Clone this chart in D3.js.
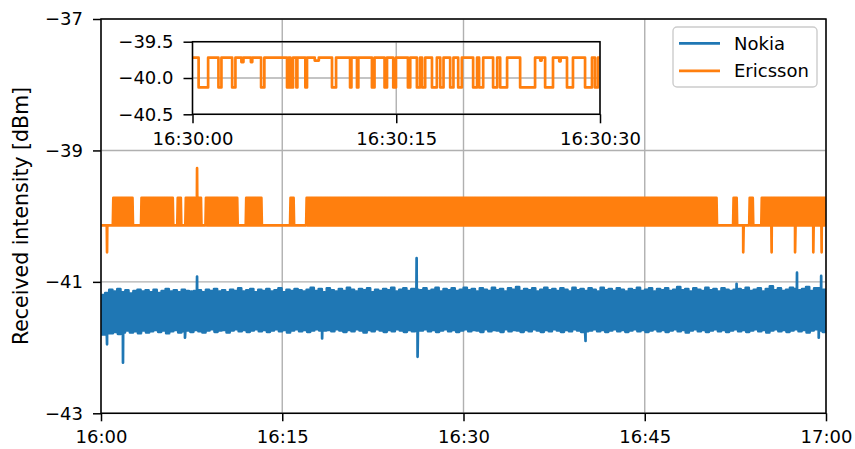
<!DOCTYPE html>
<html><head><meta charset="utf-8">
<script src="https://cdn.jsdelivr.net/npm/d3@7"></script>
<style>body{margin:0;background:#fff} text{font-family:"DejaVu Sans",sans-serif;fill:#000}</style>
</head><body><svg id="c" width="855" height="449"></svg>
<script>
// ---------- data ----------
const seriesNames = ["Nokia", "Ericsson"];
const seriesColors = ["#1f77b4", "#ff7f0e"];
const mainXTicks = ["16:00", "16:15", "16:30", "16:45", "17:00"];
const mainYTicks = [-43, -41, -39, -37];
const insetXTicks = ["16:30:00", "16:30:15", "16:30:30"];
const insetYTicks = [-40.5, -40.0, -39.5];
const windowSec = 20;   // each entry = upper / lower edge of the trace in a 20 s window from 16:00
const samplesPerWindow = 8;

const nokiaHi = [
-41.20,-41.17,-41.12,-41.15,-41.11,-41.16,-41.13,-41.18,-41.14,-41.12,
-41.15,-41.13,-41.16,-41.12,-41.17,-41.14,-41.11,-41.15,-41.13,-41.16,
-41.12,-41.14,-41.15,-41.14,-41.13,-41.16,-41.12,-41.14,-41.11,-41.15,
-41.13,-41.16,-41.12,-41.14,-41.10,-41.15,-41.13,-41.11,-41.16,-41.12,
-41.14,-41.11,-41.15,-41.13,-41.10,-41.16,-41.12,-41.14,-41.11,-41.13,
-41.15,-41.12,-41.09,-41.14,-41.11,-41.16,-41.10,-41.13,-41.15,-41.11,
-41.14,-41.09,-41.12,-41.15,-41.11,-41.13,-41.10,-41.16,-41.12,-41.14,
-41.11,-41.13,-41.09,-41.15,-41.12,-41.10,-41.14,-41.11,-41.12,-41.13,
-41.10,-41.14,-41.12,-41.09,-41.15,-41.11,-41.13,-41.10,-41.14,-41.12,
-41.09,-41.13,-41.11,-41.15,-41.10,-41.12,-41.14,-41.09,-41.13,-41.11,
-41.15,-41.10,-41.12,-41.08,-41.14,-41.11,-41.13,-41.10,-41.15,-41.12,
-41.09,-41.13,-41.11,-41.14,-41.10,-41.12,-41.15,-41.09,-41.13,-41.11,
-41.14,-41.10,-41.12,-41.15,-41.09,-41.13,-41.11,-41.14,-41.10,-41.12,
-41.15,-41.11,-41.13,-41.09,-41.14,-41.12,-41.10,-41.15,-41.11,-41.13,
-41.10,-41.14,-41.12,-41.08,-41.13,-41.11,-41.15,-41.10,-41.12,-41.14,
-41.09,-41.13,-41.11,-41.15,-41.10,-41.12,-41.14,-41.12,-41.11,-41.13,
-41.09,-41.14,-41.12,-41.10,-41.15,-41.11,-41.07,-41.13,-41.10,-41.14,
-41.12,-41.09,-41.11,-41.13,-41.11,-41.08,-41.14,-41.10,-41.10,-41.12];

const nokiaLo = [
-41.80,-41.78,-41.78,-41.76,-41.79,-41.77,-41.74,-41.77,-41.75,-41.78,
-41.74,-41.77,-41.75,-41.73,-41.76,-41.74,-41.78,-41.75,-41.73,-41.77,
-41.75,-41.74,-41.76,-41.73,-41.75,-41.77,-41.74,-41.72,-41.76,-41.74,
-41.73,-41.77,-41.74,-41.72,-41.75,-41.73,-41.76,-41.74,-41.72,-41.75,
-41.73,-41.76,-41.74,-41.72,-41.75,-41.73,-41.77,-41.74,-41.72,-41.75,
-41.73,-41.76,-41.74,-41.72,-41.74,-41.74,-41.73,-41.75,-41.72,-41.74,
-41.76,-41.73,-41.75,-41.72,-41.74,-41.77,-41.73,-41.75,-41.72,-41.74,
-41.76,-41.73,-41.75,-41.72,-41.74,-41.76,-41.73,-41.75,-41.74,-41.74,
-41.72,-41.75,-41.73,-41.76,-41.74,-41.72,-41.75,-41.73,-41.76,-41.74,
-41.72,-41.75,-41.73,-41.74,-41.76,-41.72,-41.75,-41.73,-41.74,-41.76,
-41.72,-41.75,-41.73,-41.74,-41.76,-41.73,-41.75,-41.72,-41.74,-41.76,
-41.73,-41.75,-41.72,-41.74,-41.76,-41.73,-41.75,-41.72,-41.74,-41.76,
-41.75,-41.74,-41.72,-41.75,-41.73,-41.76,-41.74,-41.72,-41.75,-41.73,
-41.76,-41.74,-41.72,-41.75,-41.73,-41.76,-41.74,-41.72,-41.75,-41.73,
-41.76,-41.74,-41.72,-41.75,-41.73,-41.77,-41.74,-41.72,-41.75,-41.73,
-41.76,-41.74,-41.72,-41.75,-41.73,-41.76,-41.74,-41.72,-41.75,-41.73,
-41.76,-41.74,-41.72,-41.75,-41.73,-41.77,-41.74,-41.72,-41.75,-41.73,
-41.76,-41.74,-41.72,-41.75,-41.73,-41.77,-41.74,-41.72,-41.74,-41.76];

// isolated spikes: [minutes after 16:00, dBm]
const nokiaSpikeMin = [0.5, 1.82, 6.95, 7.95, 18.3, 26.12, 26.2, 40.1, 52.6, 57.6, 59.4, 59.6];
const nokiaSpikeVal = [-41.95, -42.23, -41.85, -40.92, -41.86, -40.64, -42.14, -41.90, -41.03, -40.86, -41.85, -40.91];

const ericssonHi = [
-40.14,-40.14,-40.14,-39.72,-39.72,-39.72,-39.72,-39.72,-40.14,-40.14,
-39.72,-39.72,-39.72,-39.72,-39.72,-39.72,-39.72,-39.72,-40.14,-39.72,
-40.14,-39.72,-39.72,-39.72,-39.72,-40.14,-39.72,-39.72,-39.72,-39.72,
-39.72,-39.72,-39.72,-39.72,-40.14,-40.14,-39.72,-39.72,-39.72,-39.72,
-40.14,-40.14,-40.14,-40.14,-40.14,-40.14,-40.14,-39.72,-40.14,-40.14,
-40.14,-39.72,-39.72,-39.72,-39.72,-39.72,-39.72,-39.72,-39.72,-39.72,
-39.72,-39.72,-39.72,-39.72,-39.72,-39.72,-39.72,-39.72,-39.72,-39.72,
-39.72,-39.72,-39.72,-39.72,-39.72,-39.72,-39.72,-39.72,-39.72,-39.72,
-39.72,-39.72,-39.72,-39.72,-39.72,-39.72,-39.72,-39.72,-39.72,-39.72,
-39.72,-39.72,-39.72,-39.72,-39.72,-39.72,-39.72,-39.72,-39.72,-39.72,
-39.72,-39.72,-39.72,-39.72,-39.72,-39.72,-39.72,-39.72,-39.72,-39.72,
-39.72,-39.72,-39.72,-39.72,-39.72,-39.72,-39.72,-39.72,-39.72,-39.72,
-39.72,-39.72,-39.72,-39.72,-39.72,-39.72,-39.72,-39.72,-39.72,-39.72,
-39.72,-39.72,-39.72,-39.72,-39.72,-39.72,-39.72,-39.72,-39.72,-39.72,
-39.72,-39.72,-39.72,-39.72,-39.72,-39.72,-39.72,-39.72,-39.72,-39.72,
-39.72,-39.72,-39.72,-40.14,-40.14,-40.14,-40.14,-39.72,-40.14,-40.14,
-40.14,-39.72,-40.14,-40.14,-39.72,-39.72,-39.72,-39.72,-39.72,-39.72,
-39.72,-39.72,-39.72,-39.72,-39.72,-39.72,-39.72,-39.72,-39.72,-39.72];

const ericssonLo = [
-40.14,-40.14,-40.14,-40.14,-40.14,-40.14,-40.14,-40.14,-40.14,-40.14,
-40.14,-40.14,-40.14,-40.14,-40.14,-40.14,-40.14,-40.14,-40.14,-40.14,
-40.14,-40.14,-40.14,-40.14,-40.14,-40.14,-40.14,-40.14,-40.14,-40.14,
-40.14,-40.14,-40.14,-40.14,-40.14,-40.14,-40.14,-40.14,-40.14,-40.14,
-40.14,-40.14,-40.14,-40.14,-40.14,-40.14,-40.14,-40.14,-40.14,-40.14,
-40.14,-40.14,-40.14,-40.14,-40.14,-40.14,-40.14,-40.14,-40.14,-40.14,
-40.14,-40.14,-40.14,-40.14,-40.14,-40.14,-40.14,-40.14,-40.14,-40.14,
-40.14,-40.14,-40.14,-40.14,-40.14,-40.14,-40.14,-40.14,-40.14,-40.14,
-40.14,-40.14,-40.14,-40.14,-40.14,-40.14,-40.14,-40.14,-40.14,-40.14,
-40.14,-40.14,-40.14,-40.14,-40.14,-40.14,-40.14,-40.14,-40.14,-40.14,
-40.14,-40.14,-40.14,-40.14,-40.14,-40.14,-40.14,-40.14,-40.14,-40.14,
-40.14,-40.14,-40.14,-40.14,-40.14,-40.14,-40.14,-40.14,-40.14,-40.14,
-40.14,-40.14,-40.14,-40.14,-40.14,-40.14,-40.14,-40.14,-40.14,-40.14,
-40.14,-40.14,-40.14,-40.14,-40.14,-40.14,-40.14,-40.14,-40.14,-40.14,
-40.14,-40.14,-40.14,-40.14,-40.14,-40.14,-40.14,-40.14,-40.14,-40.14,
-40.14,-40.14,-40.14,-40.14,-40.14,-40.14,-40.14,-40.14,-40.14,-40.14,
-40.14,-40.14,-40.14,-40.14,-40.14,-40.14,-40.14,-40.14,-40.14,-40.14,
-40.14,-40.14,-40.14,-40.14,-40.14,-40.14,-40.14,-40.14,-40.14,-40.14];

const ericssonSpikeMin = [0.5, 7.95, 53.15, 55.5, 57.44, 58.95, 59.64];
const ericssonSpikeVal = [-40.55, -39.27, -40.55, -40.55, -40.55, -40.55, -40.55];

// Inset: Ericsson 16:30:00 - 16:30:30, step changes (seconds after 16:30:00, value)
const insetSec = [0,0.45,1.15,1.91,2.13,2.92,3.16,3.6,3.75,4.3,4.4,5.05,5.29,6.96,7.08,7.21,7.40,7.65,7.72,8.31,8.43,9.0,9.3,
  10.27,10.57,11.6,11.7,12.11,12.21,13.21,13.40,14.14,14.32,14.78,14.98,15.86,16.03,16.52,16.75,16.90,17.13,17.63,17.99,
  18.24,18.48,18.97,19.21,19.56,19.83,20.66,20.95,21.10,21.40,22.13,22.43,22.65,23.16,24.12,25.22,25.6,25.7,25.96,26.54,
  27.0,27.1,27.57,28.01,28.90,29.41,29.63,29.85,30];
const insetVal = [-39.72,-40.13,-39.72,-40.13,-39.72,-40.13,-39.72,-39.78,-39.72,-39.78,-39.72,-40.13,-39.72,-40.13,-39.72,-40.13,-39.72,-40.13,-39.72,-40.13,-39.72,-39.76,-39.72,
  -40.13,-39.72,-40.13,-39.72,-40.13,-39.72,-40.13,-39.72,-40.13,-39.72,-40.13,-39.72,-40.13,-39.72,-40.13,-39.72,-40.13,-39.72,-40.13,-39.72,
  -40.13,-39.72,-40.13,-39.72,-40.13,-39.72,-40.13,-39.72,-40.13,-39.72,-40.13,-39.72,-40.13,-39.72,-40.13,-39.72,-39.76,-39.72,-40.13,-39.72,
  -39.77,-39.72,-40.13,-39.72,-40.13,-39.72,-40.13,-39.72,-39.72];

// ---------- drawing ----------
const svg = d3.select("#c");
const FS = 18, GRID = "#b0b0b0", LW = 2.7;
const pHM = d3.utcParse("%H:%M"), pHMS = d3.utcParse("%H:%M:%S");
const addSec = (d, s) => new Date(d.getTime() + s * 1000);

const M = {l: 101, r: 826, t: 19, b: 413.3};
const x = d3.scaleUtc().domain([pHM(mainXTicks[0]), pHM(mainXTicks[mainXTicks.length - 1])]).range([M.l, M.r]);
const y = d3.scaleLinear().domain([d3.min(mainYTicks), d3.max(mainYTicks)]).range([M.b, M.t]);
const base = pHM(mainXTicks[0]);

const defs = svg.append("defs");
defs.append("clipPath").attr("id", "clipMain")
  .append("rect").attr("x", M.l).attr("y", M.t).attr("width", M.r - M.l).attr("height", M.b - M.t);
defs.append("clipPath").attr("id", "clipInset")
  .append("rect").attr("x", 192.5).attr("y", 41.7).attr("width", 600 - 192.5).attr("height", 114.3 - 41.7);

// grid
const xTickDates = mainXTicks.map(pHM);
const g = svg.append("g");
g.selectAll(".gx").data(xTickDates).join("line")
  .attr("x1", d => x(d)).attr("x2", d => x(d)).attr("y1", M.t).attr("y2", M.b)
  .attr("stroke", GRID).attr("stroke-width", 1.4);
g.selectAll(".gy").data(mainYTicks).join("line")
  .attr("y1", d => y(d)).attr("y2", d => y(d)).attr("x1", M.l).attr("x2", M.r)
  .attr("stroke", GRID).attr("stroke-width", 1.4);

// trace: inside each window the signal flips between its upper and lower edge
function trace(hi, lo, spikeMin, spikeVal) {
  const pts = [];
  const step = windowSec / samplesPerWindow;
  hi.forEach((h, i) => {
    for (let k = 0; k < samplesPerWindow; k++) {
      pts.push([i * windowSec + (k + 0.5) * step, k % 2 === 0 ? h : lo[i]]);
    }
  });
  spikeMin.forEach((m, j) => pts.push([m * 60, spikeVal[j]]));
  pts.sort((a, b) => a[0] - b[0]);
  return pts.map(p => [addSec(base, p[0]), p[1]]);
}
const line = d3.line().x(d => x(d[0])).y(d => y(d[1]));
const lines = svg.append("g").attr("clip-path", "url(#clipMain)");
[[nokiaHi, nokiaLo, nokiaSpikeMin, nokiaSpikeVal],
 [ericssonHi, ericssonLo, ericssonSpikeMin, ericssonSpikeVal]].forEach((s, k) => {
  lines.append("path").attr("d", line(trace(s[0], s[1], s[2], s[3])))
    .attr("fill", "none").attr("stroke", seriesColors[k]).attr("stroke-width", LW)
    .attr("stroke-linejoin", "round");
});

// main axes
const xAxis = d3.axisBottom(x).tickValues(xTickDates).tickFormat(d3.utcFormat("%H:%M"))
  .tickSizeInner(8).tickSizeOuter(0).tickPadding(9);
const yAxis = d3.axisLeft(y).tickValues(mainYTicks).tickFormat(d3.format(".0f"))
  .tickSizeInner(8).tickSizeOuter(0).tickPadding(10);
function styleAxis(sel) {
  sel.select(".domain").remove();
  sel.selectAll(".tick line").attr("stroke", "#000").attr("stroke-width", 1.5);
  sel.selectAll(".tick text").attr("font-size", FS).attr("font-family", "DejaVu Sans").attr("fill", "#000");
}
svg.append("g").attr("transform", `translate(0,${M.b})`).call(xAxis).call(styleAxis);
svg.append("g").attr("transform", `translate(${M.l},0)`).call(yAxis).call(styleAxis);
svg.append("rect").attr("x", M.l).attr("y", M.t).attr("width", M.r - M.l).attr("height", M.b - M.t)
  .attr("fill", "none").attr("stroke", "#000").attr("stroke-width", 1.5);

svg.append("text").attr("transform", "translate(28,216) rotate(-90)")
  .attr("text-anchor", "middle").attr("font-size", 20.5).text("Received intensity [dBm]");

// inset
const I = {l: 192.5, r: 600, t: 41.7, b: 114.3};
const ix = d3.scaleUtc().domain([pHMS(insetXTicks[0]), pHMS(insetXTicks[insetXTicks.length - 1])]).range([I.l, I.r]);
const iy = d3.scaleLinear().domain([d3.min(insetYTicks), d3.max(insetYTicks)]).range([I.b, I.t]);
const iXDates = insetXTicks.map(pHMS);
const ig = svg.append("g");
ig.selectAll(".igx").data(iXDates).join("line")
  .attr("x1", d => ix(d)).attr("x2", d => ix(d)).attr("y1", I.t).attr("y2", I.b)
  .attr("stroke", GRID).attr("stroke-width", 1.4);
ig.selectAll(".igy").data(insetYTicks).join("line")
  .attr("y1", d => iy(d)).attr("y2", d => iy(d)).attr("x1", I.l).attr("x2", I.r)
  .attr("stroke", GRID).attr("stroke-width", 1.4);
const iBase = iXDates[0];
const insetPts = insetSec.map((s, i) => [addSec(iBase, s), insetVal[i]]);
ig.append("path").attr("clip-path", "url(#clipInset)")
  .attr("d", d3.line().curve(d3.curveStepAfter).x(d => ix(d[0])).y(d => iy(d[1]))(insetPts))
  .attr("fill", "none").attr("stroke", seriesColors[1]).attr("stroke-width", LW)
  .attr("stroke-linejoin", "round");
const ixAxis = d3.axisBottom(ix).tickValues(iXDates).tickFormat(d3.utcFormat("%H:%M:%S"))
  .tickSizeInner(9).tickSizeOuter(0).tickPadding(9);
const iyAxis = d3.axisLeft(iy).tickValues(insetYTicks).tickFormat(d3.format(".1f"))
  .tickSizeInner(9).tickSizeOuter(0).tickPadding(10);
ig.append("g").attr("transform", `translate(0,${I.b})`).call(ixAxis).call(styleAxis);
ig.append("g").attr("transform", `translate(${I.l},0)`).call(iyAxis).call(styleAxis);
ig.append("rect").attr("x", I.l).attr("y", I.t).attr("width", I.r - I.l).attr("height", I.b - I.t)
  .attr("fill", "none").attr("stroke", "#000").attr("stroke-width", 1.5);

// legend
const L = svg.append("g");
L.append("rect").attr("x", 673).attr("y", 27).attr("width", 144).attr("height", 60).attr("rx", 4)
  .attr("fill", "#fff").attr("fill-opacity", 0.8).attr("stroke", "#cccccc").attr("stroke-width", 1.4);
seriesNames.forEach((n, k) => {
  const cy = 43.3 + k * 27.5;
  L.append("line").attr("x1", 679).attr("x2", 720).attr("y1", cy).attr("y2", cy)
    .attr("stroke", seriesColors[k]).attr("stroke-width", LW);
  L.append("text").attr("x", 734).attr("y", cy + 6.6).attr("font-size", FS).text(n);
});
</script></body></html>
